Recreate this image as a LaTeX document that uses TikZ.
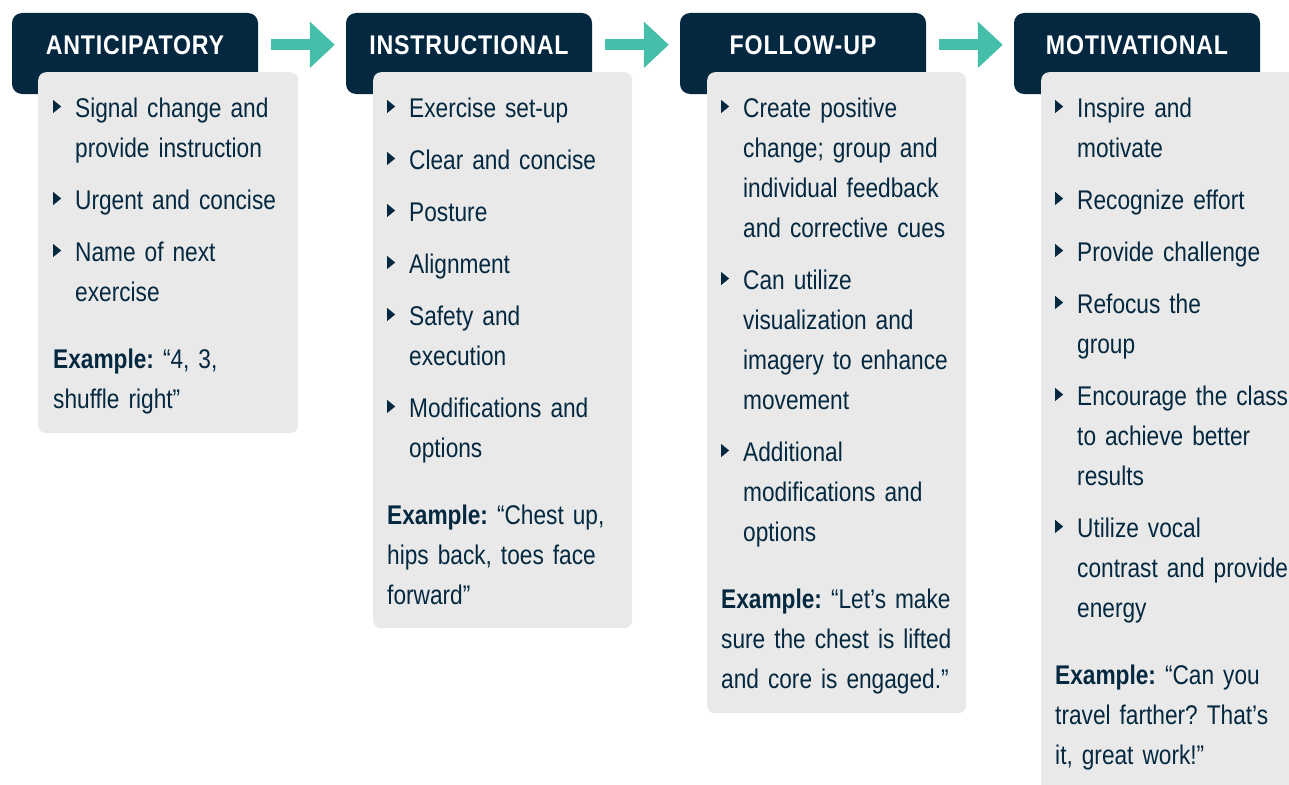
\documentclass[tikz,border=0pt]{standalone}
\usepackage{fontspec}
\setmainfont{Liberation Sans}[FakeStretch=0.84,WordSpace=0.9]
\newfontfamily\headfont{Liberation Sans}[FakeStretch=0.86,LetterSpace=3]
\usetikzlibrary{arrows.meta,positioning}
\frenchspacing
\definecolor{navy}{RGB}{4,40,63}
\definecolor{cardgray}{RGB}{233,233,233}
\definecolor{teal}{RGB}{69,191,170}
\newcommand\tri{\tikz[baseline=0pt]\fill[navy](0pt,4pt)--(0pt,17pt)--(8pt,10.5pt)--cycle;}
\newcommand\itm[1]{\hangindent=22pt\hangafter=1\noindent\makebox[22pt][l]{\tri}#1\par}
\newcommand\ex[1]{\vspace{15pt}\noindent\textbf{Example:} #1}

\begin{document}
\begin{tikzpicture}[x=1pt,y=-1pt]
\tikzset{head/.style={fill=navy,rounded corners=10pt,minimum width=246pt,minimum height=81pt,inner sep=0pt},
  headtxt/.style={text=white,font=\headfont\bfseries\fontsize{27}{30}\selectfont,inner sep=0pt},
  card/.style={fill=cardgray,rounded corners=8pt,anchor=north west,minimum width=260pt,inner sep=0pt},
  body/.style={anchor=base west,inner sep=0pt,text width=300pt,align=left,text=navy,
    font=\fontsize{27}{40}\selectfont,execute at begin node={\setlength{\parskip}{12pt}}},
  flow/.style={teal,line width=11pt,-{Triangle[length=25pt,width=45pt]},shorten <=13pt,shorten >=11pt}}
\useasboundingbox (0,0) rectangle (1289,784);

\node[head] (h1) at (135,53.5) {};
\node[head] (h2) at (469,53.5) {};
\node[head] (h3) at (803,53.5) {};
\node[head] (h4) at (1137,53.5) {};
\node[headtxt] (t1) at ([yshift=-32pt]h1.north) {ANTICIPATORY};
\node[headtxt] (t2) at ([yshift=-32pt]h2.north) {INSTRUCTIONAL};
\node[headtxt] (t3) at ([yshift=-32pt]h3.north) {FOLLOW-UP};
\node[headtxt] (t4) at ([yshift=-32pt]h4.north) {MOTIVATIONAL};
\foreach \a/\b in {1/2,2/3,3/4}
  \draw[flow] (h\a.east |- t\a) -- (h\b.west |- t\b);

\node[card,minimum height=361pt] (c1) at (38,72) {};
\node[card,minimum height=556pt,minimum width=259pt] (c2) at (373,72) {};
\node[card,minimum height=641pt,minimum width=259pt] (c3) at (707,72) {};
\node[card,minimum height=800pt,minimum width=300pt] (c4) at (1041,72) {};

\node[body] (b1) at ([xshift=15pt,yshift=-45pt]c1.north west) {%
\itm{Signal change and\newline provide instruction}
\itm{Urgent and concise}
\itm{Name of next\newline exercise}
\ex{“4, 3,\newline shuffle right”}};
\node[body] (b2) at ([xshift=14pt,yshift=-45pt]c2.north west) {%
\itm{Exercise set-up}
\itm{Clear and concise}
\itm{Posture}
\itm{Alignment}
\itm{Safety and\newline execution}
\itm{Modifications and\newline options}
\ex{“Chest up,\newline hips back, toes face\newline forward”}};
\node[body] (b3) at ([xshift=14pt,yshift=-45pt]c3.north west) {%
\itm{Create positive\newline change; group and\newline individual feedback\newline and corrective cues}
\itm{Can utilize\newline visualization and\newline imagery to enhance\newline movement}
\itm{Additional\newline modifications and\newline options}
\ex{“Let’s make\newline sure the chest is lifted\newline and core is engaged.”}};
\node[body] (b4) at ([xshift=14pt,yshift=-45pt]c4.north west) {%
\itm{Inspire and\newline motivate}
\itm{Recognize effort}
\itm{Provide challenge}
\itm{Refocus the\newline group}
\itm{Encourage the class\newline to achieve better\newline results}
\itm{Utilize vocal\newline contrast and provide\newline energy}
\ex{“Can you\newline travel farther? That’s\newline it, great work!”}};
\end{tikzpicture}
\end{document}
